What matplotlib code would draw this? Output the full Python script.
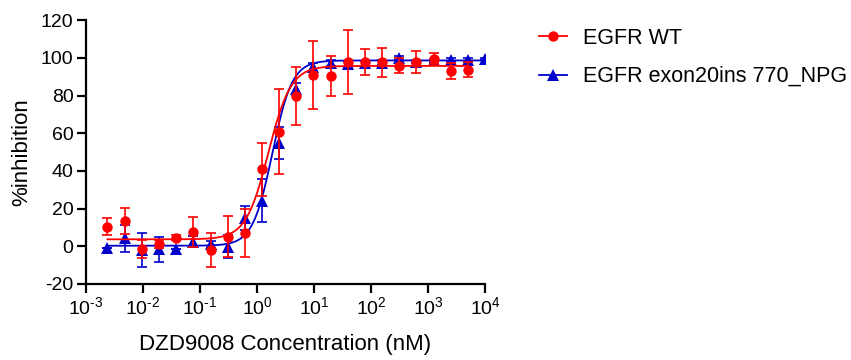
import numpy as np
import matplotlib
matplotlib.use("Agg")
import matplotlib.pyplot as plt

plt.rcParams['font.family'] = ['Liberation Sans', 'DejaVu Sans']
plt.rcParams['mathtext.fontset'] = 'custom'
plt.rcParams['mathtext.rm'] = 'Liberation Sans'
plt.rcParams['mathtext.it'] = 'Liberation Sans'
plt.rcParams['mathtext.bf'] = 'Liberation Sans'
plt.rcParams['axes.unicode_minus'] = False

# ---- data (2-fold dilution series, nM) ----
conc_blue = [0.00238, 0.00477, 0.00954, 0.0191, 0.0381, 0.0763, 0.153, 0.305,
             0.610, 1.22, 2.44, 4.88, 9.77, 19.5, 39.1, 78.1, 156, 313, 625,
             1250, 2500, 5000, 10000]
conc_red = conc_blue[:-1]

wt_mean = [10.4, 13.4, -1.4, 1.3, 4.6, 7.4, -1.8, 5.1, 7.2, 40.9, 60.9, 79.8,
           91.0, 90.6, 98.0, 97.7, 97.7, 95.9, 97.7, 99.5, 93.1, 93.6]
wt_err = [4.6, 6.8, 5.0, 2.0, 1.5, 8.0, 9.0, 11.0, 12.8, 14.0, 22.7, 15.5,
          18.0, 10.6, 17.0, 7.0, 7.7, 4.2, 6.0, 3.0, 4.2, 4.0]

npg_mean = [-0.7, 4.2, -2.0, -1.5, -1.4, 2.5, 1.0, -0.2, 14.9, 24.2, 54.7, 83.4,
            95.0, 97.2, 96.5, 97.0, 97.5, 99.8, 98.0, 98.6, 99.0, 99.0, 99.2]
npg_err = [0.0, 7.0, 9.2, 6.6, 0.0, 3.0, 2.0, 6.0, 6.5, 11.5, 8.6, 3.0,
           2.0, 1.5, 1.5, 1.5, 1.5, 1.0, 1.0, 1.0, 1.0, 1.0, 0.5]

# 4PL fit parameters: bottom, top, logIC50, hill
wt_fit = (3.7, 95.7, 0.20, 2.2)
npg_fit = (0.3, 98.6, 0.27, 2.5)

labels = ['EGFR WT', 'EGFR exon20ins 770_NPG']
red = '#FF0000'
blue = '#0000CC'


def four_pl(logx, p):
    bottom, top, logic50, hill = p
    return bottom + (top - bottom) / (1 + 10 ** ((logic50 - logx) * hill))


fig = plt.figure(figsize=(8.51, 3.6), dpi=100)
ax = fig.add_axes([86 / 851, 1 - 284 / 360, (485 - 86) / 851, (284 - 20.1) / 360])

series = [
    (conc_blue, npg_mean, npg_err, npg_fit, blue, '^', 8.0, labels[1], 2),
    (conc_red, wt_mean, wt_err, wt_fit, red, 'o', 7.5, labels[0], 3),
]
handles = {}
for conc, mean, err, fit, col, mk, ms, lab, z in series:
    conc = np.asarray(conc)
    lx = np.linspace(np.log10(conc[0]), np.log10(conc[-1]), 400)
    ax.plot(10 ** lx, four_pl(lx, fit), color=col, lw=1.3, zorder=z)
    ax.errorbar(conc, mean, yerr=err, fmt='none', ecolor=col, elinewidth=1.2,
                capsize=3.9, capthick=1.2, zorder=z)
    ax.plot(conc, mean, linestyle='none', marker=mk, ms=ms, color=col,
            markeredgewidth=0, zorder=z + 0.5)
    h, = ax.plot([], [], color=col, lw=1.3, marker=mk, ms=ms, markeredgewidth=0)
    handles[lab] = h

ax.set_xscale('log')
ax.set_xlim(1e-3, 1e4)
ax.set_ylim(-20, 120)
ax.set_yticks(np.arange(-20, 121, 20))
xt = [1e-3, 1e-2, 1e-1, 1e0, 1e1, 1e2, 1e3, 1e4]
ax.set_xticks(xt)
ax.set_xticklabels([r'$\mathregular{10^{\text{%d}}}$' % int(np.log10(v)) for v in xt])
ax.xaxis.set_minor_locator(matplotlib.ticker.NullLocator())

for s in ['top', 'right']:
    ax.spines[s].set_visible(False)
for s in ['left', 'bottom']:
    ax.spines[s].set_linewidth(1.6)
ax.tick_params(axis='both', which='major', direction='out', length=6.5, width=1.6,
               labelsize=14, pad=2.5, colors='black')

ax.set_xlabel('DZD9008 Concentration (nM)', fontsize=16)
ax.xaxis.set_label_coords(0.5, -0.19)
ax.set_ylabel('%inhibition', fontsize=16)
ax.yaxis.set_label_coords(-0.135, 0.5)

fig.legend([handles[labels[0]], handles[labels[1]]], labels,
           loc='upper left', bbox_to_anchor=(539 / 851, 1 - 27.5 / 360),
           frameon=False, fontsize=15.5, handlelength=1.3, handletextpad=0.74,
           labelspacing=0.82, borderaxespad=0, borderpad=0)

fig.savefig('out.png', dpi=100)
